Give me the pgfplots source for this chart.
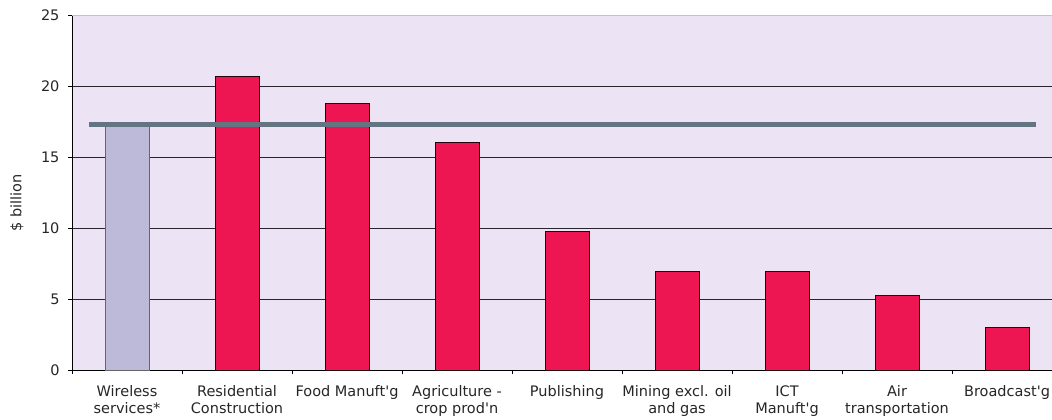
\documentclass[border=0pt]{standalone}
\usepackage{pgfplots}
\pgfplotsset{compat=1.18}
\usepackage{fontspec}
\setmainfont{DejaVu Sans}

\definecolor{plotbg}{RGB}{236,228,244}
\definecolor{barred}{RGB}{238,22,82}
\definecolor{barlilac}{RGB}{188,186,216}
\definecolor{avgline}{RGB}{100,116,130}
\definecolor{gridc}{RGB}{40,36,44}
\definecolor{topc}{RGB}{196,192,204}

\begin{document}
\begin{tikzpicture}[x=1bp,y=1bp]
\begin{axis}[
  at={(0,0)}, anchor=south west,
  scale only axis, width=980bp, height=354.3bp,
  xmin=-0.5, xmax=8.409, ymin=0, ymax=25,
  axis background/.style={fill=plotbg},
  axis lines*=left,
  axis line style={black, line width=0.9bp},
  ytick={0,5,...,25},
  /pgf/number format/assume math mode=true,
  ymajorgrids,
  major grid style={draw=gridc, line width=0.9bp},
  xtick={0,...,8},
  xticklabels={Wireless\\services*, Residential\\Construction, Food Manuft\textquotesingle g,
    Agriculture -\\crop prod\textquotesingle n, Publishing, Mining excl. oil\\and gas,
    ICT\\Manuft\textquotesingle g, Air\\transportation, Broadcast\textquotesingle g},
  minor xtick={-0.5,0.5,...,7.5},
  major x tick style={draw=none},
  tick align=outside,
  major tick length=4bp, minor tick length=4bp,
  tick style={black, line width=0.8bp},
  x tick label style={align=center, font=\fontsize{14.5bp}{17bp}\selectfont, text=black!85, yshift=-8bp},
  y tick label style={font=\fontsize{14.5bp}{17bp}\selectfont, text=black!85, xshift=-5bp},
  ylabel={\$ billion},
  ylabel style={at={(rel axis cs:-0.0561,0.471)}, anchor=center,
    font=\fontsize{14.5bp}{17bp}\selectfont, text=black!85},
  ybar, bar width=44bp, bar shift=0pt,
]
% wireless services
\addplot[fill=barlilac, draw=black!60, line width=0.9bp] coordinates {(0,17.2)};
% other industries
\addplot[fill=barred, draw=black!85!barred, line width=0.9bp] coordinates {
  (1,20.7) (2,18.82) (3,16.04) (4,9.79) (5,6.95) (6,6.95) (7,5.27) (8,3.01)};
% reference level
\addplot[sharp plot, no marks, draw=avgline, line width=5.3bp]
  coordinates {(-0.345,17.3) (8.26,17.3)};
\draw[topc, line width=1.2bp] (axis cs:-0.5,25) -- (axis cs:8.409,25);
\end{axis}
\pgfresetboundingbox
\useasboundingbox (-72,-49) rectangle (980,370);
\end{tikzpicture}
\end{document}
